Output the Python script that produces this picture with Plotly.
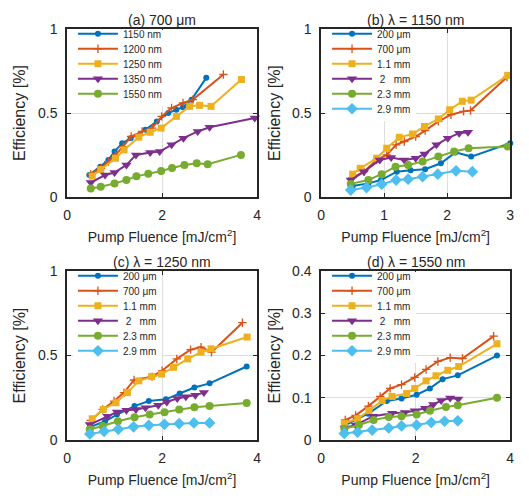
import plotly.graph_objects as go

# ---------------- data ----------------
# (a) 700 um, various wavelengths
a_names = ["1150 nm", "1200 nm", "1250 nm", "1350 nm", "1550 nm"]
a_x_1150 = [0.47, 0.70, 0.87, 1.00, 1.16, 1.34, 1.65, 1.89, 2.13, 2.30, 2.44, 2.62, 2.93]
a_y_1150 = [0.13, 0.18, 0.22, 0.27, 0.32, 0.35, 0.40, 0.45, 0.50, 0.52, 0.535, 0.58, 0.71]
a_x_1200 = [0.50, 0.71, 0.87, 1.02, 1.18, 1.35, 1.58, 1.79, 1.99, 2.20, 2.44, 2.65, 3.29]
a_y_1200 = [0.135, 0.17, 0.21, 0.25, 0.30, 0.36, 0.39, 0.41, 0.48, 0.53, 0.56, 0.58, 0.73]
a_x_1250 = [0.53, 0.71, 1.02, 1.20, 1.51, 1.75, 1.98, 2.30, 2.58, 2.79, 3.03, 3.67]
a_y_1250 = [0.123, 0.163, 0.23, 0.28, 0.356, 0.385, 0.41, 0.48, 0.54, 0.546, 0.54, 0.70]
a_x_1350 = [0.50, 0.80, 1.00, 1.25, 1.45, 1.75, 1.95, 2.20, 2.45, 2.75, 3.00, 3.95]
a_y_1350 = [0.085, 0.13, 0.145, 0.19, 0.25, 0.265, 0.27, 0.31, 0.35, 0.39, 0.415, 0.47]
a_x_1550 = [0.50, 0.71, 1.00, 1.25, 1.46, 1.71, 1.98, 2.21, 2.47, 2.73, 2.96, 3.66]
a_y_1550 = [0.05, 0.06, 0.08, 0.10, 0.122, 0.137, 0.154, 0.172, 0.19, 0.20, 0.195, 0.25]

thick_names = ["200 \u03bcm", "700 \u03bcm", "1.1 mm", "\u00a02\u00a0\u00a0\u00a0mm", "2.3 mm", "2.9 mm"]

# (b) lambda = 1150 nm
b_x_200 = [0.50, 0.75, 0.95, 1.20, 1.42, 1.65, 1.90, 2.13, 2.38, 3.00]
b_y_200 = [0.065, 0.08, 0.10, 0.15, 0.158, 0.165, 0.20, 0.265, 0.24, 0.32]
b_x_700 = [0.50, 0.68, 0.88, 1.04, 1.19, 1.32, 1.50, 1.65, 1.86, 2.06, 2.26, 2.37, 2.95]
b_y_700 = [0.115, 0.15, 0.22, 0.25, 0.31, 0.33, 0.36, 0.395, 0.45, 0.49, 0.51, 0.515, 0.715]
b_x_11 = [0.50, 0.62, 0.88, 1.04, 1.24, 1.45, 1.64, 1.86, 2.04, 2.24, 2.38, 2.96]
b_y_11 = [0.135, 0.17, 0.23, 0.29, 0.355, 0.375, 0.42, 0.465, 0.52, 0.57, 0.577, 0.725]
b_x_2 = [0.47, 0.68, 0.93, 1.11, 1.32, 1.50, 1.64, 1.83, 2.01, 2.19, 2.33]
b_y_2 = [0.10, 0.15, 0.22, 0.235, 0.22, 0.23, 0.255, 0.31, 0.35, 0.38, 0.385]
b_x_23 = [0.47, 0.75, 0.96, 1.18, 1.38, 1.61, 1.86, 2.11, 2.34, 2.96]
b_y_23 = [0.077, 0.10, 0.135, 0.18, 0.19, 0.21, 0.24, 0.27, 0.29, 0.30]
b_x_29 = [0.47, 0.72, 0.96, 1.19, 1.38, 1.61, 1.85, 2.14, 2.40]
b_y_29 = [0.04, 0.055, 0.075, 0.10, 0.105, 0.12, 0.135, 0.155, 0.15]

# (c) lambda = 1250 nm
c_x_200 = [0.48, 0.80, 1.05, 1.42, 1.72, 2.08, 2.37, 2.68, 3.00, 3.78]
c_y_200 = [0.075, 0.11, 0.15, 0.20, 0.23, 0.24, 0.275, 0.31, 0.335, 0.435]
c_x_700 = [0.50, 0.75, 0.99, 1.20, 1.41, 1.79, 2.00, 2.31, 2.60, 2.82, 3.04, 3.69]
c_y_700 = [0.115, 0.18, 0.23, 0.28, 0.355, 0.375, 0.41, 0.48, 0.535, 0.55, 0.52, 0.695]
c_x_11 = [0.53, 0.76, 1.03, 1.27, 1.51, 1.78, 1.99, 2.24, 2.54, 2.82, 3.03, 3.79]
c_y_11 = [0.125, 0.18, 0.22, 0.28, 0.35, 0.375, 0.39, 0.43, 0.48, 0.52, 0.54, 0.61]
c_x_2 = [0.48, 0.85, 1.05, 1.25, 1.45, 1.65, 1.92, 2.10, 2.32, 2.50, 2.70, 2.88]
c_y_2 = [0.09, 0.14, 0.165, 0.175, 0.18, 0.19, 0.205, 0.225, 0.245, 0.255, 0.265, 0.28]
c_x_23 = [0.48, 0.75, 1.07, 1.42, 1.74, 2.05, 2.36, 2.68, 3.00, 3.78]
c_y_23 = [0.063, 0.082, 0.11, 0.134, 0.15, 0.164, 0.18, 0.193, 0.20, 0.218]
c_x_29 = [0.48, 0.78, 1.08, 1.40, 1.72, 2.05, 2.36, 2.67, 3.00]
c_y_29 = [0.035, 0.05, 0.063, 0.077, 0.086, 0.092, 0.096, 0.10, 0.10]

# (d) lambda = 1550 nm
d_x_200 = [0.49, 0.73, 1.00, 1.39, 1.70, 2.02, 2.30, 2.57, 2.89, 3.72]
d_y_200 = [0.033, 0.048, 0.062, 0.092, 0.098, 0.107, 0.122, 0.144, 0.153, 0.20]
d_x_700 = [0.51, 0.73, 1.00, 1.25, 1.46, 1.70, 1.98, 2.22, 2.47, 2.73, 2.99, 3.65]
d_y_700 = [0.047, 0.058, 0.08, 0.103, 0.122, 0.131, 0.148, 0.167, 0.186, 0.195, 0.193, 0.246]
d_x_11 = [0.49, 0.77, 1.01, 1.29, 1.50, 1.81, 1.98, 2.22, 2.43, 2.68, 2.91, 3.72]
d_y_11 = [0.039, 0.05, 0.069, 0.093, 0.103, 0.11, 0.122, 0.14, 0.152, 0.165, 0.174, 0.228]
d_x_2 = [0.50, 0.73, 1.10, 1.50, 1.77, 1.98, 2.20, 2.37, 2.54, 2.73, 2.90]
d_y_2 = [0.028, 0.035, 0.056, 0.063, 0.065, 0.069, 0.075, 0.084, 0.093, 0.099, 0.097]
d_x_23 = [0.49, 0.80, 1.11, 1.43, 1.70, 2.02, 2.30, 2.64, 2.89, 3.72]
d_y_23 = [0.026, 0.035, 0.047, 0.054, 0.056, 0.06, 0.069, 0.078, 0.082, 0.10]
d_x_29 = [0.49, 0.77, 1.08, 1.43, 1.70, 2.02, 2.33, 2.61, 2.89]
d_y_29 = [0.015, 0.018, 0.023, 0.028, 0.033, 0.035, 0.041, 0.044, 0.045]

titles = ["(a) 700 \u03bcm", "(b) \u03bb = 1150 nm", "(c) \u03bb = 1250 nm", "(d) \u03bb = 1550 nm"]
x_ticks = [[0, 2, 4], [0, 1, 2, 3], [0, 2, 4], [0, 2, 4]]
y_ticks = [[0, 0.5, 1], [0, 0.5, 1], [0, 0.5, 1], [0, 0.1, 0.2, 0.3, 0.4]]
y_ticktext = [["0", "0.5", "1"], ["0", "0.5", "1"], ["0", "0.5", "1"], ["0", "0.1", "0.2", "0.3", "0.4"]]

# ---------------- styles ----------------
W, H = 529, 502
COLORS = ['#0072BD', '#D95319', '#EDB120', '#7E2F8E', '#77AC30', '#4DBEEE']
MARKERS = [dict(symbol='circle', size=6),
           dict(symbol='cross-thin', size=6),
           dict(symbol='square', size=7),
           dict(symbol='triangle-down', size=9),
           dict(symbol='circle', size=8),
           dict(symbol='diamond', size=9)]
FONT = "Liberation Sans, Arial, Helvetica, sans-serif"
TXT = '#262626'

# pixel boxes of each axes: left, right, top, bottom
boxes = [(64, 257, 22, 195), (322, 514, 22, 195), (64, 257, 272, 446), (322, 514, 272, 446)]

series = [
    [(a_x_1150, a_y_1150), (a_x_1200, a_y_1200), (a_x_1250, a_y_1250), (a_x_1350, a_y_1350), (a_x_1550, a_y_1550)],
    [(b_x_200, b_y_200), (b_x_700, b_y_700), (b_x_11, b_y_11), (b_x_2, b_y_2), (b_x_23, b_y_23), (b_x_29, b_y_29)],
    [(c_x_200, c_y_200), (c_x_700, c_y_700), (c_x_11, c_y_11), (c_x_2, c_y_2), (c_x_23, c_y_23), (c_x_29, c_y_29)],
    [(d_x_200, d_y_200), (d_x_700, d_y_700), (d_x_11, d_y_11), (d_x_2, d_y_2), (d_x_23, d_y_23), (d_x_29, d_y_29)],
]
names_all = [a_names, thick_names, thick_names, thick_names]

fig = go.Figure()
layout = dict(width=W, height=H, margin=dict(l=0, r=0, t=0, b=0),
              paper_bgcolor='white', plot_bgcolor='white',
              font=dict(family=FONT, color=TXT), annotations=[])

for p in range(4):
    L, R, T, B = boxes[p]
    sfx = '' if p == 0 else str(p + 1)
    legname = 'legend' + sfx
    for i, (xs, ys) in enumerate(series[p]):
        m = MARKERS[i]
        mk = dict(symbol=m['symbol'], size=m['size'], color=COLORS[i])
        if m['symbol'] == 'cross-thin':
            mk['line'] = dict(color=COLORS[i], width=1.3)
        fig.add_trace(go.Scatter(x=xs, y=ys, mode='lines+markers', name=names_all[p][i],
                                 line=dict(color=COLORS[i], width=2), marker=mk,
                                 xaxis='x' + sfx, yaxis='y' + sfx, legend=legname,
                                 cliponaxis=False))
    ax = dict(showline=True, linecolor=TXT, linewidth=1.5, mirror='ticks',
              ticks='inside', ticklen=4, tickcolor=TXT, tickwidth=1,
              showgrid=True, gridcolor='#dedede', gridwidth=1, zeroline=False,
              tickfont=dict(size=14, color=TXT, family=FONT), ticklabelstandoff=5)
    layout['xaxis' + sfx] = dict(ax, domain=[L / W, R / W], anchor='y' + sfx,
                                 range=[0, x_ticks[p][-1]], tickvals=x_ticks[p],
                                 title=dict(text='Pump Fluence [mJ/cm<sup>2</sup>]',
                                            font=dict(size=14, family=FONT, color=TXT), standoff=10))
    layout['yaxis' + sfx] = dict(ax, domain=[1 - B / H, 1 - T / H], anchor='x' + sfx,
                                 range=[0, y_ticks[p][-1]], tickvals=y_ticks[p], ticktext=y_ticktext[p],
                                 title=dict(text='Efficiency [%]',
                                            font=dict(size=16, family=FONT, color=TXT), standoff=8))
    layout[legname] = dict(x=(L + 6) / W, y=1 - (T + 1) / H, xanchor='left', yanchor='top',
                           bgcolor='white', borderwidth=0,
                           font=dict(size=10, family=FONT, color=TXT), itemwidth=40)
    layout['annotations'].append(dict(text=titles[p], x=(L + R) / 2 / W, y=1 - T / H,
                                      xref='paper', yref='paper', xanchor='center', yanchor='bottom',
                                      showarrow=False, yshift=-1,
                                      font=dict(size=14, family=FONT, color=TXT)))

fig.update_layout(**layout)

# tighten the legend row spacing to 15 px (as in the original MATLAB legends)
post = r"""
var gd = document.getElementById('{plot_id}');
var ROW = 15, SHIFT = 11;
function tightenLegends() {
  var groups = gd.querySelectorAll('g.infolayer > g');
  for (var k = 0; k < groups.length; k++) {
    var lg = groups[k];
    var cls = lg.getAttribute('class') || '';
    if (cls.indexOf('legend') !== 0) continue;
    var tr = lg.querySelectorAll('g.traces');
    if (!tr.length) continue;
    var y0 = null, x0 = 0;
    for (var i = 0; i < tr.length; i++) {
      var t = tr[i];
      var orig = t.getAttribute('data-orig');
      if (orig === null) {
        orig = t.getAttribute('transform') || '';
        t.setAttribute('data-orig', orig);
      }
      var m = /translate\(\s*([-\d.e]+)\s*[, ]\s*([-\d.e]+)\s*\)/.exec(orig);
      if (!m) continue;
      if (y0 === null) { x0 = parseFloat(m[1]); y0 = parseFloat(m[2]) - SHIFT; }
      t.setAttribute('transform', 'translate(' + x0 + ',' + (y0 + i * ROW) + ')');
    }
    var bg = lg.querySelector('rect.bg');
    if (bg) {
      var h0 = bg.getAttribute('data-h0');
      if (h0 === null) { h0 = bg.getAttribute('height'); bg.setAttribute('data-h0', h0); }
      bg.setAttribute('height', parseFloat(h0) - tr.length * (19 - ROW) - SHIFT + 2);
    }
  }
}
tightenLegends();
if (gd.on) { gd.on('plotly_afterplot', function () { tightenLegends(); }); }
setTimeout(tightenLegends, 50);
setTimeout(tightenLegends, 300);
setTimeout(tightenLegends, 1000);
"""

fig.write_html("out.html", post_script=post)
